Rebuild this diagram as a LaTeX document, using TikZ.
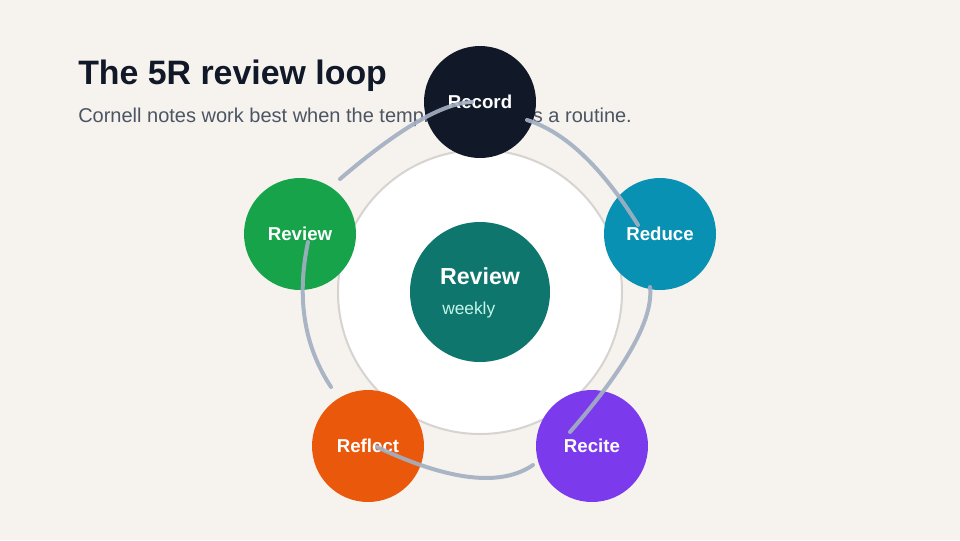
\documentclass[tikz,border=0pt]{standalone}
\usepackage{fontspec}
\setmainfont{Liberation Sans}
\definecolor{bg}{HTML}{F6F3EE}
\definecolor{ink}{HTML}{111827}
\definecolor{sub}{HTML}{4B5563}
\definecolor{ringc}{HTML}{D6D3D1}
\definecolor{arcc}{HTML}{A3AFC2}
\definecolor{crecord}{HTML}{111827}
\definecolor{creduce}{HTML}{0891B2}
\definecolor{crecite}{HTML}{7C3AED}
\definecolor{creflect}{HTML}{EA580C}
\definecolor{creview}{HTML}{16A34A}
\definecolor{ccenter}{HTML}{0F766E}
\definecolor{cweekly}{HTML}{C5F5EA}
\tikzset{
  stepnode/.style={circle, minimum size=84pt, inner sep=0pt, text=white,
    font=\fontsize{14}{16}\selectfont\bfseries},
  looparc/.style={draw=arcc, line width=3pt, line cap=round, opacity=0.92},
}
\begin{document}
\begin{tikzpicture}[x=0.75pt, y=-0.75pt]
\useasboundingbox (0,0) rectangle (960,540);
\fill[bg] (0,0) rectangle (960,540);

% title and subtitle
\node[anchor=base west, inner sep=0pt, text=ink, font=\fontsize{25.4}{30}\selectfont\bfseries] (title) at (78,84) {The 5R review loop};
\node[anchor=base west, inner sep=0pt, text=sub, font=\fontsize{15}{18}\selectfont] (subtitle) at (78,122) {Cornell notes work best when the template becomes a routine.};

% big white disc
\node[circle, fill=white, draw=ringc, line width=1.5pt, minimum size=213pt, inner sep=0pt] (disc) at (480,292) {};

% centre
\node[circle, fill=ccenter, minimum size=105pt, inner sep=0pt] (hub) at (480,292) {};
\node[text=white, font=\fontsize{17.4}{20}\selectfont\bfseries, inner sep=0pt] (hubtitle) at (480,276) {Review};
\node[anchor=west, text=cweekly, font=\fontsize{13}{15}\selectfont, inner sep=0pt] (hubsub) at (442,310) {weekly};

% outer step circles
\node[stepnode, fill=crecord] (record) at (480,102) {Record};
\node[stepnode, fill=creduce] (reduce) at (660,234) {Reduce};
\node[stepnode, fill=crecite] (recite) at (592,446) {Recite};
\node[stepnode, fill=creflect] (reflect) at (368,446) {Reflect};
\node[stepnode, fill=creview] (review) at (300,234) {Review};

% arc end points (start, two controls, end)
\coordinate (a1s) at (340,179); \coordinate (a1p) at (398.7,128.7); \coordinate (a1q) at (442.7,103); \coordinate (a1e) at (472,102);
\coordinate (a2s) at (527,120); \coordinate (a2p) at (564.7,131.7); \coordinate (a2q) at (601.7,166.7); \coordinate (a2e) at (638,225);
\coordinate (a3s) at (650,287); \coordinate (a3p) at (653.6,318.3); \coordinate (a3q) at (626.9,366.6); \coordinate (a3e) at (570,432);
\coordinate (a4s) at (533,465); \coordinate (a4p) at (501,487); \coordinate (a4q) at (449,481); \coordinate (a4e) at (377,447);
\coordinate (a5s) at (331,387); \coordinate (a5p) at (304,346); \coordinate (a5q) at (296.3,297.7); \coordinate (a5e) at (308,242);

\draw[looparc] (a1s) .. controls (a1p) and (a1q) .. (a1e);
\draw[looparc] (a2s) .. controls (a2p) and (a2q) .. (a2e);
\draw[looparc] (a3s) .. controls (a3p) and (a3q) .. (a3e);
\draw[looparc] (a4s) .. controls (a4p) and (a4q) .. (a4e);
\draw[looparc] (a5s) .. controls (a5p) and (a5q) .. (a5e);
\end{tikzpicture}
\end{document}
